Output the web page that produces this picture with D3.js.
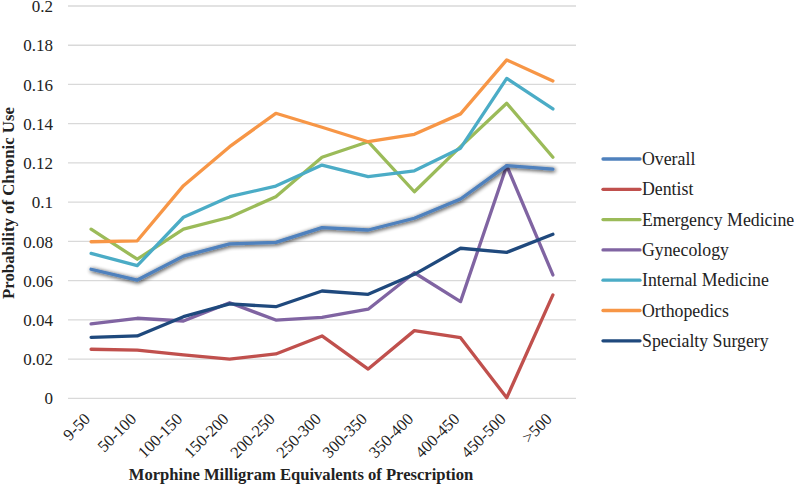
<!DOCTYPE html>
<html><head><meta charset="utf-8">
<script src="https://cdn.jsdelivr.net/npm/d3@7"></script>
<style>body{margin:0;background:#fff}svg{display:block}</style>
</head><body><svg id="c" width="796" height="492"></svg>
<script>
const categories = ["9-50","50-100","100-150","150-200","200-250","250-300","300-350","350-400","400-450","450-500",">500"];
const seriesNames = ["Overall","Dentist","Emergency Medicine","Gynecology","Internal Medicine","Orthopedics","Specialty Surgery"];
const overall = [0.0658,0.0603,0.0725,0.0787,0.0795,0.0870,0.0858,0.0918,0.1016,0.1186,0.1168];
const dentist = [0.0250,0.0246,0.0221,0.0200,0.0226,0.0318,0.0149,0.0345,0.0309,0.0003,0.0527];
const emergency = [0.0862,0.0709,0.0862,0.0923,0.1028,0.1229,0.1308,0.1053,0.1283,0.1504,0.1229];
const gynecology = [0.0379,0.0408,0.0394,0.0487,0.0399,0.0413,0.0454,0.0640,0.0493,0.1186,0.0629];
const internal = [0.0739,0.0676,0.0923,0.1028,0.1082,0.1189,0.1130,0.1160,0.1275,0.1631,0.1475];
const orthopedics = [0.0798,0.0803,0.1084,0.1283,0.1453,0.1382,0.1308,0.1346,0.1450,0.1725,0.1618];
const specialty = [0.0311,0.0318,0.0416,0.0481,0.0467,0.0547,0.0530,0.0632,0.0765,0.0744,0.0836];
const yTicks = [0,0.02,0.04,0.06,0.08,0.1,0.12,0.14,0.16,0.18,0.2];
const colors = ["#4F81BD","#C0504D","#9BBB59","#8064A2","#4BACC6","#F79646","#1F497D"];
const seriesData = [overall,dentist,emergency,gynecology,internal,orthopedics,specialty];

const FONT = '"Liberation Serif","Times New Roman",serif';
const svg = d3.select("#c").style("font-family",FONT);
const x = d3.scaleBand().domain(categories).range([68,576]);
const y = d3.scaleLinear().domain([0,0.2]).range([398.3,6]);

const defs = svg.append("defs");
const f = defs.append("filter").attr("id","shadow").attr("x","-10%").attr("y","-30%").attr("width","120%").attr("height","160%");
f.append("feGaussianBlur").attr("in","SourceAlpha").attr("stdDeviation",2.3).attr("result","b");
f.append("feOffset").attr("in","b").attr("dx",0.8).attr("dy",1.2).attr("result","o");
f.append("feComponentTransfer").attr("in","o").attr("result","s").append("feFuncA").attr("type","linear").attr("slope",0.9);
const m = f.append("feMerge"); m.append("feMergeNode").attr("in","s"); m.append("feMergeNode").attr("in","SourceGraphic");

// gridlines
svg.append("g").selectAll("line").data(yTicks).join("line")
  .attr("x1",68).attr("x2",576).attr("y1",d=>y(d)).attr("y2",d=>y(d))
  .attr("stroke","#d9d9d9").attr("stroke-width",1.3);

// y axis labels
const yAxis = d3.axisLeft(y).tickValues(yTicks).tickFormat(d=>String(+d.toFixed(2))).tickSize(0).tickPadding(0);
const gy = svg.append("g").attr("transform","translate(53,0)").call(yAxis);
gy.attr("font-family",null).attr("font-size",null);
gy.select(".domain").remove();
gy.selectAll("text").style("font-size","17px").style("font-family",FONT).style("fill","#222").attr("dy","0.33em");

// x axis labels
const xAxis = d3.axisBottom(x).tickSize(0).tickPadding(0);
const gx = svg.append("g").attr("transform","translate(0,398)").call(xAxis);
gx.attr("font-family",null).attr("font-size",null);
gx.select(".domain").remove();
gx.selectAll("text").style("font-size","16.5px").style("font-family",FONT).style("fill","#222")
  .attr("text-anchor","end").attr("dy",null).attr("y",0)
  .attr("transform","translate(0,22) rotate(-45)");

// lines
const line = d3.line().x((d,i)=>x(categories[i])+x.bandwidth()/2).y(d=>y(d));
const order = [1,2,3,4,5,6,0];
order.forEach(k=>{
  svg.append("path").datum(seriesData[k]).attr("d",line).attr("fill","none")
    .attr("stroke",colors[k]).attr("stroke-width",3.3).attr("stroke-linejoin","round").attr("stroke-linecap","round")
    .attr("filter",k===0?"url(#shadow)":null);
});

// legend
const lg = svg.append("g");
seriesNames.forEach((n,i)=>{
  const yy = 159 + i*30.3;
  lg.append("line").attr("x1",603).attr("x2",640).attr("y1",yy).attr("y2",yy).attr("stroke",colors[i]).attr("stroke-width",3.3).attr("stroke-linecap","round");
  lg.append("text").attr("x",642).attr("y",yy+6).style("font-family",FONT).style("font-size","17.8px").style("fill","#222").text(n);
});

// axis titles
svg.append("text").attr("transform","translate(14,203) rotate(-90)").attr("text-anchor","middle")
  .style("font-family",FONT).style("fill","#222")
  .style("font-size","16.8px").style("font-weight","bold").text("Probability of Chronic Use");
svg.append("text").attr("x",301).attr("y",480).attr("text-anchor","middle")
  .style("font-family",FONT).style("fill","#222")
  .style("font-size","16.6px").style("font-weight","bold").text("Morphine Milligram Equivalents of Prescription");
</script></body></html>
